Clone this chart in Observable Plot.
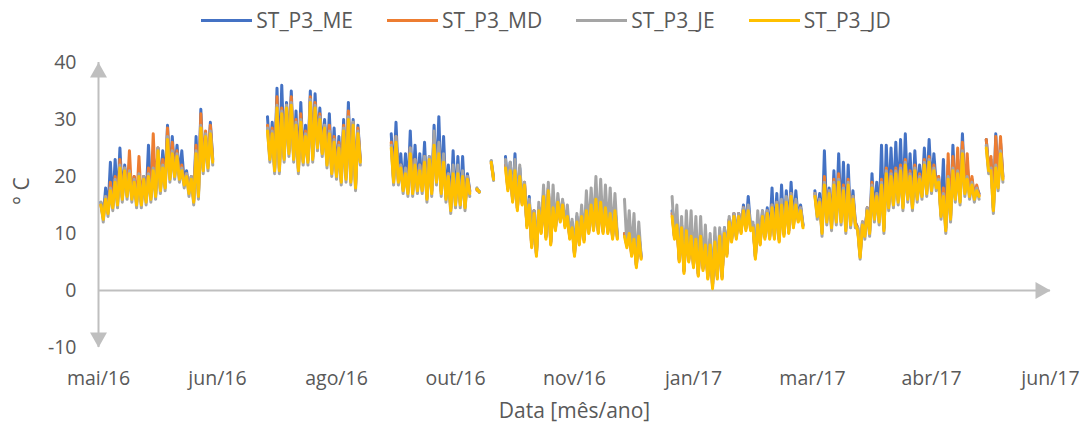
<!DOCTYPE html>
<html>
<head>
<meta charset="utf-8">
<script src="https://cdn.jsdelivr.net/npm/d3@7"></script>
<script src="https://cdn.jsdelivr.net/npm/@observablehq/plot@0.6"></script>
<style>
  html, body { margin: 0; padding: 0; background: #fff; overflow: hidden; }
  #legend { height: 40px; display: flex; justify-content: center; align-items: center;
    font-family: "Open Sans", sans-serif; font-size: 21px; color: #595959; padding-left: 0px; }
  .item { display: flex; align-items: center; margin: 0 17px; }
  .sw { width: 51px; height: 3px; margin-right: 4px; }
  #chart svg { display: block; }
</style>
</head>
<body>
<div id="legend"></div>
<div id="chart"></div>
<script>
const _ = null;

const seriesNames = ["ST_P3_ME", "ST_P3_MD", "ST_P3_JE", "ST_P3_JD"];
const seriesColors = ["#4472C4", "#ED7D31", "#A5A5A5", "#FFC000"];

const xTickDates = ["2016-05-08","2016-06-27","2016-08-16","2016-10-05","2016-11-24","2017-01-13","2017-03-04","2017-04-23","2017-06-12"];
const xTickLabels = ["mai/16","jun/16","ago/16","out/16","nov/16","jan/17","mar/17","abr/17","jun/17"];
const yTicks = [-10, 0, 10, 20, 30, 40];

// readings every 2 days starting 2016-05-09: daily maximum (hi) and minimum (lo)
const meHi = [15.5,18,22.5,23,25,22,21.5,20,21,20,25.5,24,25,24.5,29,27,25.5,24.5,21,20,27,31.8,27,29.5,
  _,_,_,_,_,_,_,_,_,_,_,
  30.5,29.5,35.5,36,33,35,31.5,33,29,35,34.5,32,30,31,28.5,27,30,33,30,29,
  _,_,_,_,_,_,
  27.5,29.5,24,24,28,25.5,24,26,23.5,29,30.5,27,22,24.5,23.5,23.5,20.5,
  _,17.8,_,_,22.7,_,_,
  23.5,22.5,24,21.5,18.5,16.5,14,14.5,17,18,15,16,15.5,13.5,12,13,13.5,15,16,17,16.5,15,14,14.5,
  _,10,10.5,9.5,10,
  _,_,_,_,_,_,
  14,12,11.5,11,10.5,10,10,9,9,9.5,10.5,11,12.5,13.5,13.5,15,16.5,11.5,12.5,14,14.5,18,17,18.5,17.5,19,17.5,15,
  _,_,
  17.5,17,24.5,18,21,24,22.5,22,17.5,11,12,14.5,20.5,19,25.5,25.5,25,26,26.5,27.5,24,24.5,22,25,26.5,24,20,23,22,25.5,23,27.5,22,19.5,18,
  _,26.5,23,27.5,26];
const meLo = [13,14,15,15.5,16.5,17,16.5,15.5,15.5,16,16.5,17,18,18.5,20,20.5,20,19,17.5,16,17,21.5,22,23,
  _,_,_,_,_,_,_,_,_,_,_,
  23.5,21.5,21.5,23.5,24.5,23.5,21.5,23,23,23.5,25.5,24.5,22.5,21,20.5,19.5,20,19.5,18.5,23,
  _,_,_,_,_,_,
  19.5,19.5,18,17.5,17.5,18,18,16.5,17.5,19.5,17.5,16.5,14.5,15.5,15.5,15,17.5,
  _,17.4,_,_,19.8,_,_,
  18,16,14.5,15.5,11.5,8,6.5,10.5,9.5,8.5,11,12.5,11.5,9.5,6.5,8.5,9,10.5,11,10.5,10.5,10.5,9.5,9.5,
  _,8,6.5,4.5,6,
  _,_,_,_,_,_,
  9.5,5.5,3.5,5.5,4.5,3,4,2.5,1,2.5,2.5,6.5,9,9.5,10.5,11,11,6,8.5,9.5,9.5,9.5,9,10,10.5,11.5,12.5,11.5,
  _,_,
  13.5,10.5,12.5,11.5,12.5,12.5,11,12,12,6.3,10,10.5,13,12.5,11,15,15.5,16,15,16.5,15,16.5,17,17.5,18,18.5,13.5,11,13,16.5,16,17.5,17,16.5,17,
  _,21.5,14.5,18.5,20];

const mdHi = [15,16.5,19,20,23,21.5,24.5,20,23.5,20,21.5,27.5,25,23,28.5,26,24.5,22,20.5,20,25.5,31,28,29,
  _,_,_,_,_,_,_,_,_,_,_,
  29,28.5,34,32,32.5,34,30,31,28,34,33,31,29,29,27,26,29,31.5,29.5,28.5,
  _,_,_,_,_,_,
  26,27,22,21,25,23,22,23.5,23,26.5,25,23.5,20.5,21,21,20.5,20,
  _,17.6,_,_,22.3,_,_,
  22,21.5,21.5,20.5,19,15.5,14,14.5,17,18,15,16,15.5,13.5,11.5,12.5,13.5,14.5,15.5,16.5,16,15,14,14.5,
  _,10,10.5,9.5,10,
  _,_,_,_,_,_,
  13.5,12,11.5,11,10,9.5,10,8.5,8.5,9,10,10.5,12.5,13.5,13.5,14.5,14.5,11.5,12,13.5,14,15,15.5,15.5,16,17,15.5,14.5,
  _,_,
  17,16,20,17.5,19.5,20.5,18.5,19.5,16.5,11,12,14.5,19,17,19.5,21.5,21,21.5,22,23,21,22,20.5,23,23.5,22,20,18,24,23.5,25,26,24,20,18.5,
  _,26.5,23.5,27,27];
const mdLo = [12.8,13.7,14.8,15.2,16.3,16.7,16.2,15.3,15.2,15.8,16.3,16.7,17.8,18.2,19.8,20.2,19.7,18.8,17.3,15.7,16.8,21.2,21.8,22.7,
  _,_,_,_,_,_,_,_,_,_,_,
  23.3,21.2,21.3,23.2,24.3,23.2,21.3,22.7,22.8,23.2,25.3,24.2,22.3,20.7,20.3,19.2,19.8,19.2,18.3,22.7,
  _,_,_,_,_,_,
  19.3,19.2,17.8,17.2,17.3,17.7,17.8,16.2,17.3,19.2,17.3,16.2,14.3,15.2,15.3,14.7,17.3,
  _,17.3,_,_,19.6,_,_,
  17.8,15.7,14.3,15.2,11.3,7.7,6.3,10.2,9.3,8.2,10.8,12.2,11.3,9.2,6.3,8.2,8.8,10.2,10.8,10.2,10.3,10.2,9.3,9.2,
  _,7.8,6.2,4.3,5.7,
  _,_,_,_,_,_,
  9.3,5.2,3.3,5.2,4.3,2.7,3.8,2.2,0.6,2.3,2.2,6.3,8.7,9.3,10.2,10.8,10.7,5.8,8.2,9.3,9.2,9.3,8.7,9.8,10.2,11.3,12.2,11.3,
  _,_,
  13.3,10.2,12.3,11.2,12.3,12.2,10.8,11.7,11.8,6,9.8,10.2,12.8,12.2,10.8,14.8,15.2,15.8,14.7,16.3,14.7,16.3,16.7,17.3,17.7,18.3,13.2,10.8,12.7,16.3,15.7,17.3,16.7,16.3,16.7,
  _,21.3,14.2,18.3,19.7];

const jeHi = [15.5,16.5,18,19.5,22,21.5,21,19.5,20.5,20,20.5,21.5,25,22,27,24.5,24,21.5,20.5,20,24.5,29,27.5,28,
  _,_,_,_,_,_,_,_,_,_,_,
  28.5,28,32.5,31.5,32.5,33,29.5,30,27.5,33.5,32.5,30.5,29,28,26.5,25.5,28.5,30.5,29.5,28,
  _,_,_,_,_,_,
  25.5,27,22,21.5,25,23,22,23.5,23.5,28,26,24,20.5,22,22,21,20,
  _,18,_,_,22.8,_,_,
  23,22.5,23,22,19,16,14,15.5,18.5,19,18.5,17,16,15,12.5,13.5,15,17.5,18,20,19.5,18.5,18,17,
  _,16,14,13.5,12,
  _,_,_,_,_,_,
  16.5,15,13,14,14,13,13,11.5,10,11,11,11,13,13.5,13.5,14.5,15,12,14,14,14,15,15.5,16,16.5,17,16,14.5,
  _,_,
  17,16,19,17.5,19,19.5,18,19,16.5,11,12,14.5,18.5,17,19,21,20.5,21,21.5,22.5,20.5,21.5,20,22.5,23,21.5,19.5,17,20,21.5,21,24.5,20,19,18,
  _,25.5,21.5,22,24.5];
const jeLo = [12,13,14,14.5,15.5,16,15.5,14.5,14.5,15,15.5,16,17,17.5,19,19.5,19,18,16.5,15,16,20.5,21,22,
  _,_,_,_,_,_,_,_,_,_,_,
  22.5,20.5,20.5,22.5,23.5,22.5,20.5,22,22,22.5,24.5,23.5,21.5,20,19.5,18.5,19,18.5,17.5,22,
  _,_,_,_,_,_,
  18.5,18.5,17,16.5,16.5,17,17,15.5,16.5,18.5,16.5,15.5,13.5,14.5,14.5,14,16.5,
  _,17.2,_,_,19.3,_,_,
  18,16,14.5,15.5,11.5,8,6.5,10.5,9.5,8.5,11,12.5,11.5,9.5,6.5,8.5,9,10.5,11,10.5,10.5,10.5,9.5,9.5,
  _,8,6.5,4.5,6,
  _,_,_,_,_,_,
  9.5,5.5,3.5,5.5,4.5,3,4,2.5,1,2.5,2.5,6.5,9,9.5,10.5,11,11,6,8.5,9.5,9.5,9.5,9,10,10.5,11.5,12.5,11.5,
  _,_,
  12.5,9.5,11.5,10.5,11.5,11.5,10,11,11,5.5,9,9.5,12,11.5,10,14,14.5,15,14,15.5,14,15.5,16,16.5,17,17.5,12.5,10,12,15.5,15,16.5,16,15.5,16,
  _,20.5,13.5,17.5,19];

const jdHi = [15,16,17.5,19,21.5,21,20.5,19,20,19.5,20,21,24.5,21.5,26.5,24,23.5,21,20,19.5,24,28.5,27,27.5,
  _,_,_,_,_,_,_,_,_,_,_,
  28,27.5,32,31,32,32.5,29,29.5,27,33,32,30,28.5,27.5,26,25,28,30,29,27.5,
  _,_,_,_,_,_,
  25,26,21.5,20.5,24,22,21,22.5,23,25.5,24,22.5,20,20.5,20.5,20,19.5,
  _,17.8,_,_,22.5,_,_,
  21.5,21,21,20,18.5,15,13.5,14,16.5,17.5,14.5,15.5,15,13,11,12,13,14,15,16,15.5,14.5,13.5,14,
  _,9.5,10,9,9.5,
  _,_,_,_,_,_,
  13,11.5,11,10.5,9.5,9,9.5,8,8,8.5,9.5,10,12,13,13,14,14,11,11.5,13,13.5,14.5,15,15,15.5,16.5,15,14,
  _,_,
  16.5,15.5,18.5,17,18.5,19,17.5,18.5,16,10.5,11.5,14,18,16.5,18.5,20.5,20,20.5,21,22,20,21,19.5,22,22.5,21,19,16.5,19.5,21,20.5,24,19.5,18.5,17.5,
  _,25,21,21.5,24];
const jdLo = [12.5,13.5,14.5,15,16,16.5,16,15,15,15.5,16,16.5,17.5,18,19.5,20,19.5,18.5,17,15.5,16.5,21,21.5,22.5,
  _,_,_,_,_,_,_,_,_,_,_,
  23,21,21,23,24,23,21,22.5,22.5,23,25,24,22,20.5,20,19,19.5,19,18,22.5,
  _,_,_,_,_,_,
  19,19,17.5,17,17,17.5,17.5,16,17,19,17,16,14,15,15,14.5,17,
  _,17.3,_,_,19.5,_,_,
  17.5,15.5,14,15,11,7.5,6,10,9,8,10.5,12,11,9,6,8,8.5,10,10.5,10,10,10,9,9,
  _,7.5,6,4,5.5,
  _,_,_,_,_,_,
  9,5,3,5,4,2.5,3.5,2,0.3,2,2,6,8.5,9,10,10.5,10.5,5.5,8,9,9,9,8.5,9.5,10,11,12,11,
  _,_,
  13,10,12,11,12,12,10.5,11.5,11.5,5.8,9.5,10,12.5,12,10.5,14.5,15,15.5,14.5,16,14.5,16,16.5,17,17.5,18,13,10.5,12.5,16,15.5,17,16.5,16,16.5,
  _,21,14,18,19.5];

const DAY = 864e5;
const dataStart = Date.UTC(2016, 4, 9);
function build(hi, lo) {
  const pts = [];
  hi.forEach((h, i) => {
    pts.push({t: new Date(dataStart + 2 * i * DAY), v: h});
    pts.push({t: new Date(dataStart + (2 * i + 1) * DAY), v: lo[i]});
  });
  return pts;
}
const series = [build(meHi, meLo), build(mdHi, mdLo), build(jeHi, jeLo), build(jdHi, jdLo)];

const tickDates = xTickDates.map(s => new Date(s + "T00:00:00Z"));
const xMin = tickDates[0], xMax = tickDates[tickDates.length - 1];
const axisColor = "#BFBFBF";
const textColor = "#595959";

const arrowUp = {draw(c) { c.moveTo(0, 0); c.lineTo(8.5, 15); c.lineTo(-8.5, 15); c.closePath(); }};
const arrowDown = {draw(c) { c.moveTo(0, 0); c.lineTo(8.5, -15); c.lineTo(-8.5, -15); c.closePath(); }};
const arrowRight = {draw(c) { c.moveTo(0, 0); c.lineTo(-15, 8.5); c.lineTo(-15, -8.5); c.closePath(); }};

// legend
const legend = document.getElementById("legend");
seriesNames.forEach((n, i) => {
  const it = document.createElement("div");
  it.className = "item";
  const sw = document.createElement("div");
  sw.className = "sw";
  sw.style.background = seriesColors[i];
  const tx = document.createElement("span");
  tx.textContent = n;
  it.appendChild(sw); it.appendChild(tx);
  legend.appendChild(it);
});

const chart = Plot.plot({
  width: 1092,
  height: 395,
  marginTop: 22,
  marginBottom: 88,
  marginLeft: 98,
  marginRight: 42,
  style: {fontFamily: "'Open Sans', sans-serif", fontSize: "19.5px", color: textColor, background: "#fff"},
  x: {type: "utc", domain: [xMin, xMax], ticks: tickDates, tickFormat: d => xTickLabels[tickDates.findIndex(t => +t === +d)],
      tickSize: 0, tickPadding: 24, label: null},
  y: {domain: [-10, 40], ticks: yTicks, tickFormat: d => String(d), tickSize: 0, tickPadding: 22, label: null},
  marks: [
    Plot.ruleX([xMin], {y1: -10, y2: 40, stroke: axisColor, strokeWidth: 2}),
    Plot.ruleY([0], {stroke: axisColor, strokeWidth: 2}),
    Plot.dot([0], {x: () => xMin, y: () => 40, symbol: arrowUp, r: 5, fill: axisColor, stroke: null}),
    Plot.dot([0], {x: () => xMin, y: () => -10, symbol: arrowDown, r: 5, fill: axisColor, stroke: null}),
    Plot.dot([0], {x: () => xMax, y: () => 0, symbol: arrowRight, r: 5, fill: axisColor, stroke: null}),
    ...series.map((s, i) => Plot.lineY(s, {x: "t", y: "v", stroke: seriesColors[i], strokeWidth: 3})),
    Plot.text(["Data [mês/ano]"], {text: d => d, frameAnchor: "bottom", dy: 70, fontSize: 21, fill: textColor}),
    Plot.text(["° C"], {text: d => d, frameAnchor: "left", dx: -76, rotate: -90, fontSize: 21, fill: textColor})
  ]
});
document.getElementById("chart").appendChild(chart);
</script>
</body>
</html>
